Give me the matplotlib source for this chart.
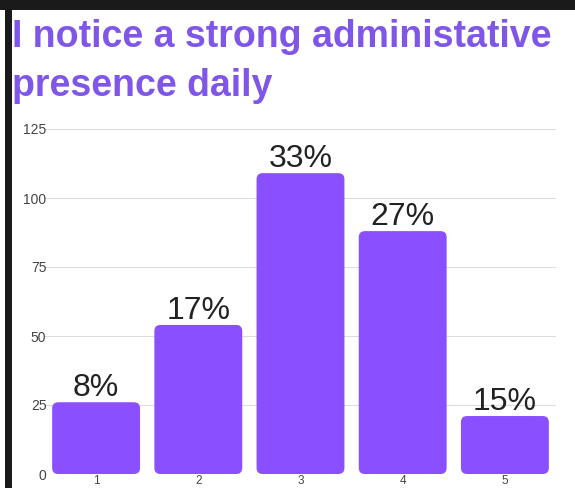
import matplotlib.pyplot as plt
from matplotlib.patches import FancyBboxPatch, Rectangle

categories = ["1", "2", "3", "4", "5"]
counts = [26, 54, 109, 88, 21]
pct_labels = ["8%", "17%", "33%", "27%", "15%"]
y_ticks = [0, 25, 50, 75, 100, 125]

title = "I notice a strong administative\npresence daily"
bar_color = "#8a4fff"
title_color = "#7f56e8"

W, H = 575, 488
fig = plt.figure(figsize=(W / 100, H / 100), dpi=100)
fig.patch.set_facecolor("white")

# axes placed in pixel terms of the original
left, right, bottom, top = 45, 556, 488 - 474, 488 - 129
ax = fig.add_axes([left / W, bottom / H, (right - left) / W, (top - bottom) / H])

x = list(range(1, len(categories) + 1))
bars = ax.bar(x, counts, width=0.86, color=bar_color)
# swap the plain bars for slightly rounded ones
px_per_x = (right - left) / 5.0
px_per_y = (top - bottom) / 125.0
for b in bars:
    b.set_visible(False)
    ax.add_patch(FancyBboxPatch(
        (b.get_x(), 0), b.get_width(), b.get_height(),
        boxstyle="round,pad=0,rounding_size=0.06",
        mutation_aspect=px_per_x / px_per_y,
        facecolor=bar_color, edgecolor="none", zorder=3))

for xi, v, lab in zip(x, counts, pct_labels):
    ax.text(xi, v - 0.3, lab, ha="center", va="bottom",
            fontsize=23, color="#222222", family="Liberation Sans", zorder=4)

ax.set_xlim(0.5, 5.5)
ax.set_ylim(0, 125)
ax.set_yticks(y_ticks)
ax.set_xticks(x)
ax.set_xticklabels(categories)
ax.tick_params(axis="both", length=0, labelcolor="#444444")
ax.tick_params(axis="y", labelsize=10, pad=-1)
ax.tick_params(axis="x", labelsize=8.5, pad=1)
for lab in ax.get_xticklabels() + ax.get_yticklabels():
    lab.set_family("Liberation Sans")
ax.grid(axis="y", color="#dddddd", linewidth=0.8, zorder=0)
ax.set_axisbelow(True)
for s in ax.spines.values():
    s.set_visible(False)

fig.text(12 / W, 1 - 19 / H, title, ha="left", va="top",
         fontsize=27, fontweight="bold", color=title_color,
         family="Liberation Sans", linespacing=1.47)

# dark frame edges of the screenshot
fig.patches.append(Rectangle((0, 1 - 10 / H), 1, 10 / H, transform=fig.transFigure,
                             facecolor="#1a1a1a", edgecolor="none"))
fig.patches.append(Rectangle((5 / W, 0), 7 / W, 1 - 5 / H, transform=fig.transFigure,
                             facecolor="#1a1a1a", edgecolor="none"))

fig.savefig("out.png", dpi=100)
